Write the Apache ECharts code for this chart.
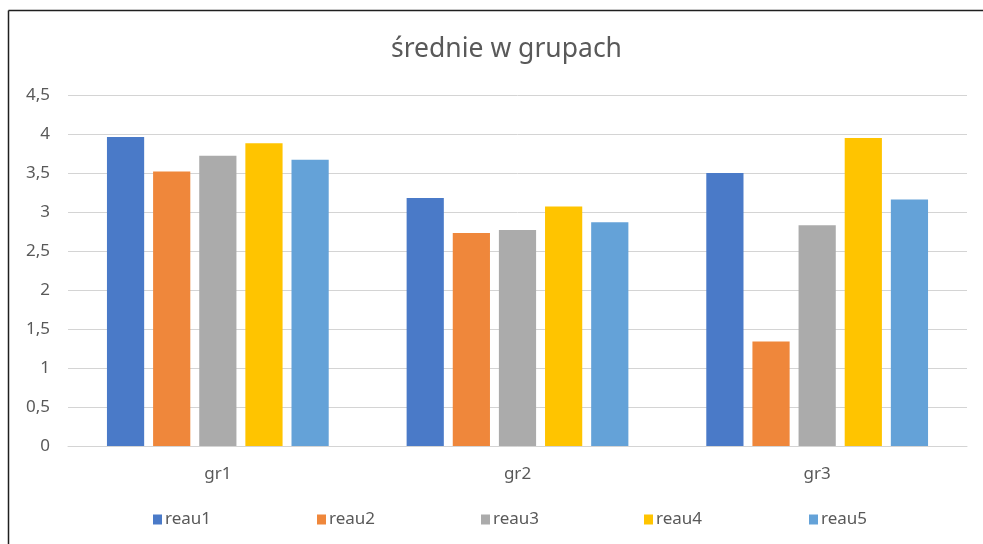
<!DOCTYPE html>
<html>
<head>
<meta charset="utf-8">
<script src="https://cdn.jsdelivr.net/npm/echarts@6/dist/echarts.min.js"></script>
<style>
html,body{margin:0;padding:0;background:#fff;}
#c{width:983px;height:544px;}
</style>
</head>
<body>
<div id="c"></div>
<script>
var categories = ['gr1', 'gr2', 'gr3'];
var seriesNames = ['reau1', 'reau2', 'reau3', 'reau4', 'reau5'];
var reau1 = [3.96, 3.18, 3.50];
var reau2 = [3.52, 2.73, 1.34];
var reau3 = [3.72, 2.77, 2.83];
var reau4 = [3.88, 3.07, 3.95];
var reau5 = [3.67, 2.87, 3.16];
var yTicks = { min: 0, max: 4.5, interval: 0.5 };

var seriesData = [reau1, reau2, reau3, reau4, reau5];
var colors = ['#4A7AC8', '#EF873B', '#ABABAB', '#FFC400', '#64A2D8'];
var legendLefts = [148, 312, 476, 639, 804];
var font = 'Noto Sans';

var chart = echarts.init(document.getElementById('c'), null, { renderer: 'canvas' });
chart.setOption({
  backgroundColor: '#ffffff',
  animation: false,
  title: {
    text: 'średnie w grupach',
    left: 386,
    top: 31,
    textStyle: { fontFamily: font, fontSize: 26.5, fontWeight: 'normal', color: '#595959' }
  },
  legend: seriesNames.map(function (n, i) {
    return {
      data: [n],
      left: legendLefts[i],
      top: 506,
      itemWidth: 9,
      itemHeight: 10,
      itemGap: 6,
      icon: 'rect',
      textStyle: { fontFamily: font, fontSize: 17, color: '#595959', padding: [0, 0, 0, -2] }
    };
  }),
  grid: { left: 68, right: 16, top: 95, bottom: 98, containLabel: false },
  xAxis: {
    type: 'category',
    data: categories,
    axisLine: { show: true, lineStyle: { color: '#d4d4d4', width: 1 } },
    axisTick: { show: false },
    axisLabel: { fontFamily: font, fontSize: 17, color: '#595959', margin: 20 }
  },
  yAxis: {
    type: 'value',
    min: yTicks.min,
    max: yTicks.max,
    interval: yTicks.interval,
    axisLine: { show: false },
    axisTick: { show: false },
    splitLine: { lineStyle: { color: '#d4d4d4', width: 1 } },
    axisLabel: {
      fontFamily: font, fontSize: 17, color: '#595959', margin: 18,
      formatter: function (v) { return String(v).replace('.', ','); }
    }
  },
  series: seriesNames.map(function (n, i) {
    return {
      name: n,
      type: 'bar',
      data: seriesData[i],
      itemStyle: { color: colors[i] },
      barGap: '24%',
      barCategoryGap: '26%'
    };
  }),
  graphic: [
    { type: 'line', shape: { x1: 8.5, y1: 10.5, x2: 983, y2: 10.5 }, style: { stroke: '#1f1f1f', lineWidth: 1.5 } },
    { type: 'line', shape: { x1: 8.5, y1: 10.5, x2: 8.5, y2: 544 }, style: { stroke: '#1f1f1f', lineWidth: 1.5 } }
  ]
});
</script>
</body>
</html>
